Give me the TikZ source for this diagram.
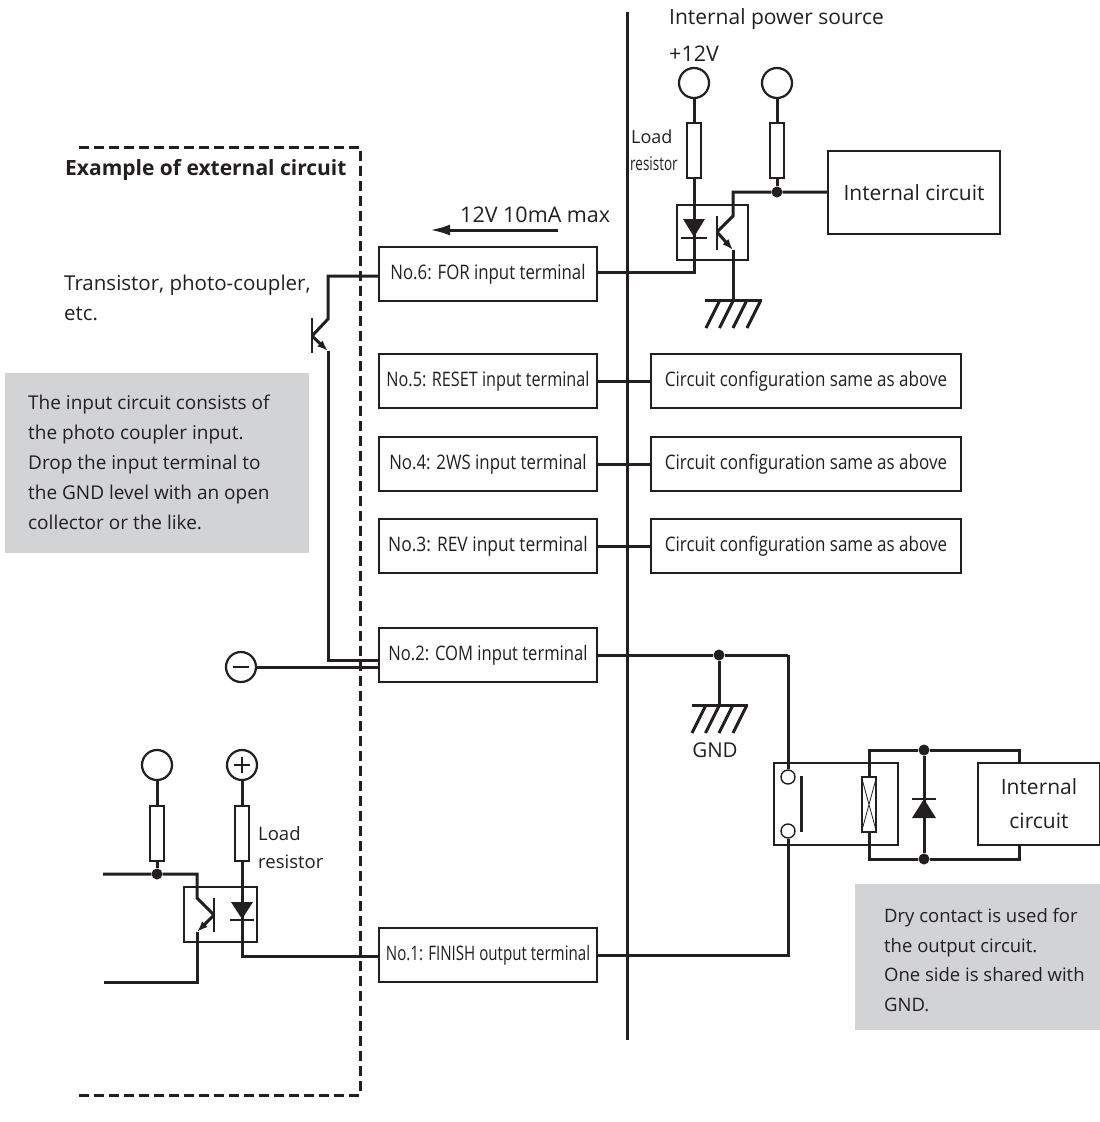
\documentclass[tikz,border=0pt]{standalone}
\usepackage{fontspec}
\setmainfont{Open Sans}
\usetikzlibrary{arrows.meta}
\newcommand{\narrowtxt}[2][.84]{\scalebox{#1}[1]{#2}}
\tikzset{
  wire/.style={line width=3pt,line cap=butt,line join=miter,color=wirecol},
  thinbox/.style={draw=wirecol,line width=1.4pt,rectangle,inner sep=0pt},
  term/.style={thinbox,minimum width=218pt,minimum height=54pt,font=\fontsize{20}{22}\selectfont,text=wirecol},
  conf/.style={thinbox,minimum width=310pt,minimum height=54pt,font=\fontsize{20}{22}\selectfont,text=wirecol},
  res/.style={draw=wirecol,fill=white,line width=2.6pt,rectangle,inner sep=0pt,minimum width=14pt,minimum height=55pt},
  opto/.style={draw=wirecol,fill=white,line width=2.6pt,rectangle,inner sep=0pt,minimum width=71pt,minimum height=55pt},
  supply/.style={draw=wirecol,fill=white,line width=2.2pt,circle,inner sep=0pt,minimum size=30pt},
  contact/.style={draw=wirecol,fill=white,line width=1.4pt,circle,inner sep=0pt,minimum size=14pt},
  dot/.style={fill=wirecol,circle,inner sep=0pt,minimum size=11pt},
  note/.style={fill=notegray,rectangle,inner sep=0pt},
  txt/.style={anchor=west,inner sep=0pt,text=wirecol,font=\fontsize{20.5}{30}\selectfont,align=left},
  notetxt/.style={txt,font=\fontsize{19}{30}\selectfont}
}
\definecolor{wirecol}{HTML}{231F20}
\definecolor{notegray}{HTML}{D1D3D4}
\begin{document}
\begin{tikzpicture}[x=1pt,y=-1pt]
  \useasboundingbox (0,0) rectangle (1100,1122);
  % grey notes
  \node[note,minimum width=304pt,minimum height=180pt] (noteleft) at (157,463) {};
  \node[note,minimum width=245pt,minimum height=146pt] (noteright) at (977.5,957) {};
  \node[notetxt] (notelefttxt) at (28,462) {The input circuit consists of\\the photo coupler input.\\Drop the input terminal to\\the GND level with an open\\collector or the like.};
  \node[notetxt,font=\fontsize{18.5}{29.5}\selectfont] (noterighttxt) at (884,960) {Dry contact is used for\\the output circuit.\\One side is shared with\\GND.};

  % external circuit border and centre line
  \draw[wire,dash pattern=on 10pt off 5pt] (79,147) -- (360,147) -- (360,1095) -- (78,1095);
  \coordinate (barup) at (627,12);
  \coordinate (bardown) at (627,1040);
  \draw[wire] (barup) -- (bardown);

  % terminals
  \node[term] (no6) at (488,274) {\narrowtxt{No.6: FOR input terminal}};
  \node[term] (no5) at (488,381) {\narrowtxt[.81]{No.5: RESET input terminal}};
  \node[term] (no4) at (488,464) {\narrowtxt{No.4: 2WS input terminal}};
  \node[term] (no3) at (488,546) {\narrowtxt[.87]{No.3: REV input terminal}};
  \node[term] (no2) at (488,655) {\narrowtxt[.83]{No.2: COM input terminal}};
  \node[term] (no1) at (488,955) {\narrowtxt[.755]{No.1: FINISH output terminal}};
  \foreach \i/\y in {5/381,4/464,3/546}{
    \node[conf] (conf\i) at (806,\y) {\narrowtxt[.85]{Circuit configuration same as above}};
    \draw[wire] (no\i) -- (conf\i);
  }

  % top right: power source and photo coupler
  \node[txt,font=\fontsize{21}{26}\selectfont] (powertxt) at (669,19) {Internal power source};
  \node[txt,font=\fontsize{21.5}{26}\selectfont] (plustxt) at (669,54) {+12V};
  \node[txt,font=\fontsize{18}{22}\selectfont] (loadtxt) at (631,137) {Load};
  \node[txt,font=\fontsize{19}{22}\selectfont] (restxt) at (630,164) {\narrowtxt[.71]{resistor}};
  \node[supply] (vone) at (694,83) {};
  \node[supply] (vtwo) at (777,83) {};
  \node[res] (rone) at (694,150.5) {};
  \node[res] (rtwo) at (777,150.5) {};
  \node[thinbox,minimum width=172pt,minimum height=83pt,font=\fontsize{21}{26}\selectfont,text=wirecol] (intcirc) at (914,192.5) {Internal circuit};
  \node[opto] (optoa) at (712.5,232.5) {};
  \coordinate (colla) at (733,192);
  \coordinate (colb) at (733,216);
  \coordinate (basea) at (717,232);
  \coordinate (emia) at (733,250);
  \coordinate (gnda) at (733,300);
  \coordinate (wirea) at (694,272);
  \node[dot] (dota) at (777,192) {};
  \draw[wire] (vone) -- (rone);
  \draw[wire] (vtwo) -- (rtwo);
  \draw[wire] (rone) -- (wirea) -- (no6.east |- wirea);
  \draw[wire] (rtwo) -- (dota);
  \draw[wire] (basea) -- (colb) -- (colla) -- (dota) -- (intcirc.west |- dota);
  \draw[wire,line width=2.6pt] (717,216) -- (717,250);
  \draw[wire,-{Latex[length=11pt,width=8pt]}] (basea) -- (emia);
  \draw[wire] (emia) -- (gnda);
  \fill[wirecol] (683,219) -- (705,219) -- (694,237) -- cycle;
  \draw[wire,line width=2.6pt] (681,238) -- (707,238);
  \draw[wire] (705,300) -- (762,300);
  \foreach \x in {720,733.5,747,761}{
    \draw[wire] (\x,300) -- (\x-14,328);
  }

  % left transistor
  \node[txt] (transtxt) at (64,298) {Transistor, photo-coupler,\\etc.};
  \node[txt,font=\bfseries\fontsize{21}{24}\selectfont] (exampletxt) at (65,170) {Example of external circuit};
  \node[txt,font=\fontsize{21.5}{26}\selectfont] (maxtxt) at (460,215) {12V 10mA max};
  \coordinate (arrowr) at (558,230);
  \coordinate (arrowl) at (430,230);
  \draw[wire,-{Latex[length=20pt,width=11pt]}] (arrowr) -- (arrowl);
  \coordinate (tcolb) at (328,276);
  \coordinate (tcola) at (328,319);
  \coordinate (tbase) at (312,336);
  \coordinate (temi) at (328,351);
  \coordinate (tdown) at (328,660);
  \draw[wire] (no6.west |- tcolb) -- (tcolb) -- (tcola) -- (tbase);
  \draw[wire,line width=2.6pt] (312,318) -- (312,353);
  \draw[wire,-{Latex[length=11pt,width=8pt]}] (tbase) -- (temi);
  \draw[wire] (temi) -- (tdown) -- (no2.west |- tdown);
  \node[supply] (vminus) at (241,667) {};
  \draw[wire,line width=2.2pt] (233,667) -- (249,667);
  \draw[wire] (vminus) -- (no2.west |- vminus);

  % COM line, ground and relay
  \node[dot] (dotcom) at (719,655) {};
  \coordinate (gndb) at (719,705);
  \coordinate (comr) at (788,655);
  \node[txt,anchor=center] (gndtxt) at (715,750) {GND};
  \draw[wire] (no2) -- (dotcom) -- (comr);
  \draw[wire] (dotcom) -- (gndb);
  \draw[wire] (692,705) -- (748,705);
  \foreach \x in {706,719.5,733,747}{
    \draw[wire] (\x,705) -- (\x-14,733);
  }
  \node[thinbox,minimum width=124pt,minimum height=82pt] (relay) at (836,804) {};
  \node[thinbox,minimum width=122pt,minimum height=82pt,font=\fontsize{21}{34}\selectfont,text=wirecol,align=center] (intcircb) at (1039,804) {Internal\\circuit};
  \node[contact] (conta) at (788,777) {};
  \node[contact] (contb) at (788,831) {};
  \draw[wire] (comr) -- (conta);
  \draw[wire] (contb) -- (788,955) -- (no1);
  \draw[wire] (801,776) -- (801,832);
  \coordinate (coila) at (869,750);
  \coordinate (coilb) at (869,859);
  \coordinate (intca) at (1019,750);
  \coordinate (intcb) at (1019,859);
  \node[dot] (dotup) at (924,750) {};
  \node[dot] (dotlow) at (924,859) {};
  \draw[wire] (intcircb.north -| intca) -- (intca) -- (dotup) -- (coila) -- (869,777);
  \draw[wire] (intcircb.south -| intcb) -- (intcb) -- (dotlow) -- (coilb) -- (869,832);
  \node[thinbox,fill=white,minimum width=14pt,minimum height=55pt] (coil) at (869,804.5) {};
  \draw[wirecol,line width=.8pt] (coil.north west) -- (coil.south east) (coil.north east) -- (coil.south west);
  \draw[wire] (dotup) -- (dotlow);
  \fill[wirecol] (924,799) -- (936,818) -- (912,818) -- cycle;
  \draw[wire,line width=2.6pt] (912,799) -- (936,799);

  % bottom left: power source and photo coupler
  \node[supply] (vthree) at (157,765) {};
  \node[supply] (vplus) at (242,765) {};
  \draw[wire,line width=2.2pt] (234,765) -- (250,765) (242,757) -- (242,773);
  \node[res] (rthree) at (157,833.5) {};
  \node[res] (rplus) at (242,833.5) {};
  \node[txt,font=\fontsize{18.5}{28}\selectfont] (loadbtxt) at (258,848) {Load\\resistor};
  \node[opto,minimum width=73pt] (optob) at (220.5,914.5) {};
  \node[dot] (dotb) at (157,874) {};
  \coordinate (leftup) at (103,874);
  \coordinate (leftlow) at (104,982);
  \coordinate (bcola) at (197,874);
  \coordinate (bcolb) at (197,898);
  \coordinate (bbase) at (214,915);
  \coordinate (bemi) at (197,932);
  \coordinate (bgnd) at (197,982);
  \coordinate (wireb) at (242,956);
  \draw[wire] (vthree) -- (rthree);
  \draw[wire] (rthree) -- (dotb);
  \draw[wire] (leftup) -- (dotb) -- (bcola) -- (bcolb) -- (bbase);
  \draw[wire,line width=2.6pt] (214,898) -- (214,932);
  \draw[wire,-{Latex[length=11pt,width=8pt]}] (bbase) -- (bemi);
  \draw[wire] (bemi) -- (bgnd) -- (leftlow);
  \draw[wire] (vplus) -- (rplus);
  \draw[wire] (rplus) -- (wireb) -- (no1.west |- wireb);
  \fill[wirecol] (231,902) -- (253,902) -- (242,919) -- cycle;
  \draw[wire,line width=2.6pt] (230,920) -- (254,920);
\end{tikzpicture}
\end{document}
